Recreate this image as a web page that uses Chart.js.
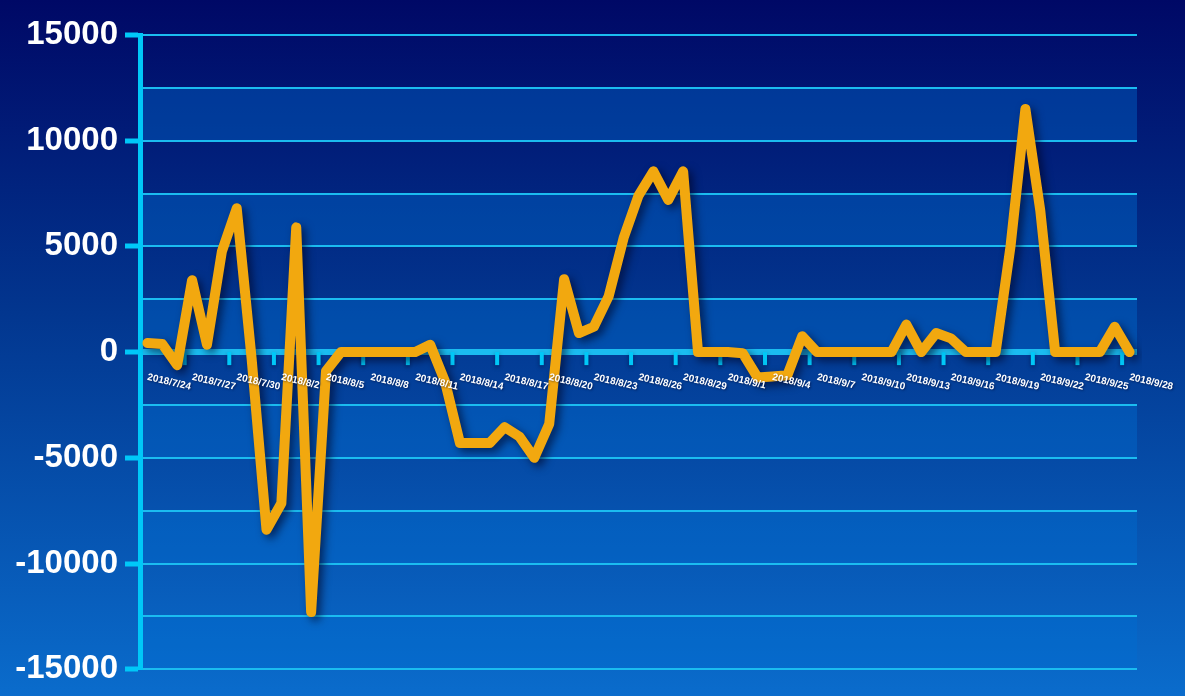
<!DOCTYPE html>
<html lang="en">
<head>
    <meta charset="UTF-8">
    <title>Daily Net Change</title>
    <style>
        html, body { margin: 0; padding: 0; }
        body { width: 1185px; height: 696px; overflow: hidden;
               background: linear-gradient(180deg, #000866 0%, #02368f 45%, #0a6ccc 100%); }
        #wrap { position: relative; width: 1185px; height: 696px; }
    </style>
</head>
<body>
    <div id="wrap"><canvas id="netChart"></canvas></div>

    <script src="https://cdn.jsdelivr.net/npm/chart.js"></script>
    <script>
        // dates on the category axis
        const dates = [
            '2018/7/24', '2018/7/25', '2018/7/26', '2018/7/27', '2018/7/28', '2018/7/29', '2018/7/30', '2018/7/31',
            '2018/8/1', '2018/8/2', '2018/8/3', '2018/8/4', '2018/8/5', '2018/8/6', '2018/8/7', '2018/8/8',
            '2018/8/9', '2018/8/10', '2018/8/11', '2018/8/12', '2018/8/13', '2018/8/14', '2018/8/15', '2018/8/16',
            '2018/8/17', '2018/8/18', '2018/8/19', '2018/8/20', '2018/8/21', '2018/8/22', '2018/8/23', '2018/8/24',
            '2018/8/25', '2018/8/26', '2018/8/27', '2018/8/28', '2018/8/29', '2018/8/30', '2018/8/31',
            '2018/9/1', '2018/9/2', '2018/9/3', '2018/9/4', '2018/9/5', '2018/9/6', '2018/9/7', '2018/9/8',
            '2018/9/9', '2018/9/10', '2018/9/11', '2018/9/12', '2018/9/13', '2018/9/14', '2018/9/15', '2018/9/16',
            '2018/9/17', '2018/9/18', '2018/9/19', '2018/9/20', '2018/9/21', '2018/9/22', '2018/9/23', '2018/9/24',
            '2018/9/25', '2018/9/26', '2018/9/27', '2018/9/28'
        ];

        // values
        const netValues = [
            430, 380, -620, 3400, 350, 4750, 6800, -300,
            -8400, -7150, 5900, -12300, -900, 0, 0, 0,
            0, 0, 0, 350, -1400, -4300, -4300, -4300,
            -3550, -4000, -5000, -3400, 3450, 900, 1200, 2650,
            5400, 7400, 8550, 7200, 8550, 0, 0,
            0, -50, -1200, -1150, -1100, 750, 0, 0,
            0, 0, 0, 0, 1300, 0, 900, 650,
            0, 0, 0, 5000, 11500, 6700, 0, 0,
            0, 0, 1200, 0
        ];

        const yMin = -15000;
        const yMax = 15000;
        const labelEvery = 3; // a date label every 3 days

        const axisColor = '#00c8f8';
        const gridColor = '#1bbcf0';

        // alternating bands between grid lines
        const bandPlugin = {
            id: 'bands',
            beforeDraw(chart) {
                const { ctx, chartArea, scales: { y } } = chart;
                ctx.save();
                ctx.fillStyle = 'rgba(0, 110, 210, 0.4)';
                const ticks = y.ticks.map(t => t.value).sort((a, b) => b - a);
                for (let i = 1; i < ticks.length - 1; i += 2) {
                    const top = y.getPixelForValue(ticks[i]);
                    const bottom = y.getPixelForValue(ticks[i + 1]);
                    ctx.fillRect(chartArea.left, top, chartArea.right - chartArea.left, bottom - top);
                }
                ctx.restore();
            }
        };

        // tick marks and slanted date labels along the zero line
        const dateAxisPlugin = {
            id: 'dateAxis',
            beforeDatasetsDraw(chart) {
                const { ctx, scales: { x, y } } = chart;
                const y0 = y.getPixelForValue(0);
                ctx.save();
                ctx.strokeStyle = axisColor;
                ctx.lineWidth = 4;
                ctx.shadowColor = 'rgba(0, 0, 40, 0.45)';
                ctx.shadowBlur = 4;
                ctx.shadowOffsetY = 2;
                for (let k = labelEvery; k < dates.length; k += labelEvery) {
                    const bx = (x.getPixelForValue(k - 1) + x.getPixelForValue(k)) / 2;
                    ctx.beginPath();
                    ctx.moveTo(bx, y0);
                    ctx.lineTo(bx, y0 + 13);
                    ctx.stroke();
                }
                ctx.restore();
            },
            afterDatasetsDraw(chart) {
                const { ctx, scales: { x, y } } = chart;
                const y0 = y.getPixelForValue(0);
                ctx.save();
                ctx.fillStyle = '#ffffff';
                ctx.font = 'bold 10px "Liberation Sans", Arial, sans-serif';
                ctx.textAlign = 'left';
                ctx.textBaseline = 'middle';
                ctx.shadowColor = 'rgba(0, 0, 40, 0.5)';
                ctx.shadowBlur = 2;
                ctx.shadowOffsetX = 1;
                ctx.shadowOffsetY = 1;
                for (let k = 0; k < dates.length; k += labelEvery) {
                    const px = x.getPixelForValue(k);
                    ctx.save();
                    ctx.translate(px, y0 + 25);
                    ctx.rotate(13 * Math.PI / 180);
                    ctx.fillText(dates[k], 0, 0);
                    ctx.restore();
                }
                ctx.restore();
            }
        };

        // soft shadow under the line
        const lineShadow = {
            id: 'lineShadow',
            beforeDatasetDraw(chart) {
                const ctx = chart.ctx;
                ctx.save();
                ctx.shadowColor = 'rgba(0, 0, 30, 0.6)';
                ctx.shadowBlur = 8;
                ctx.shadowOffsetX = 4;
                ctx.shadowOffsetY = 4;
            },
            afterDatasetDraw(chart) {
                chart.ctx.restore();
            }
        };

        const ctx = document.getElementById('netChart').getContext('2d');
        new Chart(ctx, {
            type: 'line',
            data: {
                labels: dates,
                datasets: [{
                    label: 'Net',
                    data: netValues,
                    borderColor: '#f2a80f',
                    borderWidth: 10,
                    borderJoinStyle: 'round',
                    borderCapStyle: 'round',
                    pointRadius: 0,
                    tension: 0,
                    fill: false
                }]
            },
            options: {
                responsive: true,
                maintainAspectRatio: false,
                animation: false,
                layout: { padding: { top: 35, right: 48, bottom: 23, left: 0 } },
                plugins: {
                    legend: { display: false },
                    tooltip: { enabled: false }
                },
                scales: {
                    x: {
                        type: 'category',
                        display: false,
                        offset: true
                    },
                    y: {
                        min: yMin,
                        max: yMax,
                        afterFit(scale) { scale.width = 140; },
                        border: { display: true, color: axisColor, width: 5 },
                        grid: {
                            color: gridColor,
                            lineWidth: c => c.tick && c.tick.value === 0 ? 6 : 2,
                            drawTicks: true,
                            tickLength: 15,
                            tickWidth: 5,
                            tickColor: c => c.tick && c.tick.value % 5000 === 0 ? axisColor : 'rgba(0,0,0,0)'
                        },
                        ticks: {
                            stepSize: 2500,
                            padding: 7,
                            color: '#ffffff',
                            font: { family: '"Liberation Sans", Arial, sans-serif', weight: 'bold', size: 33 },
                            callback: v => v % 5000 === 0 ? String(v) : ''
                        }
                    }
                }
            },
            plugins: [bandPlugin, dateAxisPlugin, lineShadow]
        });
    </script>
</body>
</html>
